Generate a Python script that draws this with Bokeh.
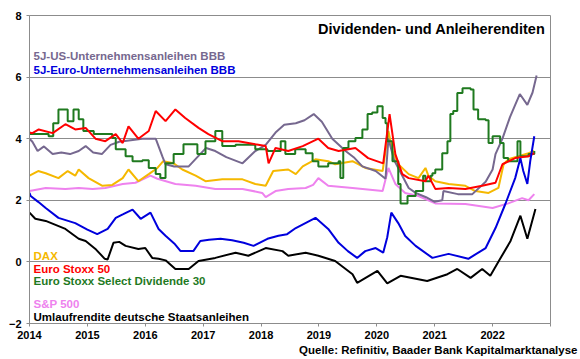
from bokeh.plotting import figure
from bokeh.models import Range1d, FixedTicker, Label, Title
from bokeh.embed import file_html
from bokeh.resources import INLINE

# ---------------- data (decimal years, percent) ----------------
us_t = [2014.00, 2014.05, 2014.14, 2014.25, 2014.40, 2014.55, 2014.70, 2014.85, 2014.97, 2015.10,
        2015.25, 2015.40, 2015.55, 2015.75, 2015.95, 2016.18, 2016.30, 2016.35, 2016.50, 2016.75,
        2016.90, 2017.05, 2017.21, 2017.40, 2017.68, 2017.90, 2018.08, 2018.25, 2018.40, 2018.60,
        2018.75, 2018.91, 2019.05, 2019.23, 2019.46, 2019.60, 2019.75, 2019.98, 2020.15, 2020.20,
        2020.30, 2020.37, 2020.55, 2020.67, 2020.85, 2021.00, 2021.13, 2021.15, 2021.40, 2021.65,
        2021.88, 2022.00, 2022.05, 2022.17, 2022.30, 2022.39, 2022.47, 2022.60, 2022.69, 2022.76]
us_v = [4.00, 3.90, 3.60, 3.75, 3.50, 3.55, 3.50, 3.60, 3.76, 3.55,
        3.50, 3.80, 3.90, 3.95, 4.00, 4.00, 3.40, 3.17, 3.10, 3.10,
        3.40, 3.70, 3.60, 3.40, 3.20, 3.60, 3.80, 4.20, 4.45, 4.50,
        4.60, 4.80, 4.55, 4.00, 3.60, 3.40, 3.10, 2.95, 2.70, 4.00,
        3.30, 3.05, 2.40, 2.24, 2.10, 1.95, 2.00, 2.30, 2.20, 2.20,
        2.60, 3.00, 3.50, 4.00, 4.70, 5.10, 5.45, 5.10, 5.50, 6.05]

eu_t = [2014.00, 2014.02, 2014.15, 2014.28, 2014.50, 2014.79, 2015.00, 2015.17, 2015.35, 2015.49,
        2015.62, 2015.78, 2015.92, 2016.09, 2016.23, 2016.35, 2016.50, 2016.61, 2016.83, 2016.95,
        2017.10, 2017.30, 2017.50, 2017.70, 2017.87, 2018.11, 2018.30, 2018.45, 2018.60, 2018.94,
        2019.16, 2019.34, 2019.50, 2019.66, 2019.80, 2019.98, 2020.11, 2020.18, 2020.25, 2020.37,
        2020.49, 2020.67, 2020.96, 2021.24, 2021.58, 2021.88, 2022.05, 2022.22, 2022.39, 2022.48,
        2022.53, 2022.60, 2022.65, 2022.72]
eu_v = [2.24, 2.14, 1.95, 1.75, 1.43, 1.26, 1.05, 0.90, 1.07, 1.43,
        1.55, 1.70, 1.40, 1.60, 1.07, 0.85, 0.60, 0.35, 0.35, 0.68,
        0.72, 0.75, 0.70, 0.62, 0.52, 0.75, 0.85, 0.90, 1.10, 1.43,
        1.07, 0.62, 0.35, 0.13, 0.35, 0.45, 0.30, 0.80, 1.60, 1.26,
        0.84, 0.52, 0.13, 0.26, 0.10, 0.45, 1.10, 1.88, 2.72, 3.37,
        2.95, 2.53, 3.27, 4.08]

bund_t = [2014.00, 2014.10, 2014.28, 2014.62, 2014.85, 2014.97, 2015.15, 2015.30, 2015.35, 2015.45,
          2015.55, 2015.66, 2015.88, 2016.00, 2016.12, 2016.23, 2016.35, 2016.52, 2016.75, 2016.92,
          2017.21, 2017.56, 2017.78, 2018.08, 2018.37, 2018.47, 2018.77, 2018.99, 2019.28, 2019.58,
          2019.66, 2020.01, 2020.18, 2020.41, 2020.87, 2021.22, 2021.39, 2021.62, 2021.82, 2021.96,
          2022.13, 2022.31, 2022.48, 2022.60, 2022.74]
bund_v = [1.60, 1.40, 1.33, 1.07, 0.75, 0.68, 0.40, 0.10, 0.08, 0.62,
          0.65, 0.52, 0.42, 0.45, 0.13, 0.10, 0.05, -0.23, -0.23, 0.03,
          0.13, 0.30, 0.20, 0.45, 0.35, 0.20, 0.30, 0.20, 0.03, -0.40,
          -0.68, -0.29, -0.70, -0.45, -0.62, -0.40, -0.23, -0.52, -0.23, -0.45,
          0.10, 0.68, 1.50, 0.75, 1.72]

es50_t = [2014.00, 2014.05, 2014.16, 2014.40, 2014.62, 2014.79, 2014.97, 2015.14, 2015.31, 2015.49,
          2015.61, 2015.71, 2015.88, 2016.06, 2016.18, 2016.35, 2016.52, 2016.69, 2016.92, 2017.09,
          2017.33, 2017.61, 2017.90, 2018.08, 2018.13, 2018.25, 2018.47, 2018.72, 2018.99, 2019.16,
          2019.34, 2019.63, 2019.85, 2020.11, 2020.22, 2020.32, 2020.44, 2020.55, 2020.84, 2020.89,
          2021.01, 2021.24, 2021.53, 2021.82, 2022.05, 2022.17, 2022.39, 2022.62, 2022.72]
es50_v = [4.20, 4.18, 4.30, 4.18, 4.47, 4.30, 4.35, 4.00, 3.92, 4.15,
          3.86, 4.40, 4.00, 4.25, 4.90, 4.57, 4.95, 4.67, 4.35, 4.15,
          3.92, 3.92, 3.82, 3.76, 3.20, 3.70, 3.60, 3.76, 4.00, 3.70,
          3.60, 3.70, 3.37, 3.20, 4.80, 3.50, 2.85, 2.72, 2.62, 2.80,
          2.37, 2.40, 2.37, 2.47, 2.57, 3.17, 3.37, 3.43, 3.53]

sd30_t = [2014.00, 2014.33, 2014.41, 2014.50, 2014.66, 2014.76, 2014.85, 2014.93, 2015.11, 2015.43,
          2015.49, 2015.66, 2015.78, 2015.95, 2016.06, 2016.18, 2016.26, 2016.35, 2016.49, 2016.66,
          2016.90, 2017.04, 2017.21, 2017.33, 2017.56, 2017.90, 2018.11, 2018.34, 2018.42, 2018.59,
          2018.77, 2018.89, 2018.99, 2019.16, 2019.34, 2019.37, 2019.42, 2019.51, 2019.63, 2019.75,
          2019.84, 2019.92, 2020.01, 2020.10, 2020.15, 2020.18, 2020.27, 2020.37, 2020.41, 2020.53,
          2020.67, 2020.80, 2020.84, 2020.93, 2020.96, 2021.01, 2021.13, 2021.22, 2021.27, 2021.32,
          2021.39, 2021.48, 2021.62, 2021.67, 2021.75, 2021.88, 2021.93, 2022.00, 2022.13, 2022.19,
          2022.27, 2022.43, 2022.48, 2022.62, 2022.72]
sd30_v = [4.15, 4.08, 4.50, 4.95, 4.57, 4.95, 4.63, 4.25, 4.15, 4.02,
          3.66, 3.43, 3.27, 3.30, 3.05, 2.85, 2.72, 3.20, 3.50, 3.82,
          3.50, 3.92, 4.25, 3.76, 3.80, 3.66, 3.60, 3.92, 3.50, 3.66,
          3.53, 3.27, 3.10, 3.20, 3.27, 2.72, 3.70, 3.92, 4.02, 4.30,
          4.80, 4.85, 5.05, 4.67, 4.50, 3.92, 3.27, 2.53, 1.90, 2.14,
          2.30, 2.80, 2.62, 2.80, 2.88, 3.00, 3.53, 3.92, 4.80, 4.90,
          5.48, 5.64, 5.60, 4.95, 4.63, 4.60, 3.86, 4.08, 3.86, 3.37,
          3.27, 3.92, 3.43, 3.50, 3.60]

dax_t = [2014.00, 2014.15, 2014.28, 2014.50, 2014.66, 2014.79, 2014.85, 2015.02, 2015.26, 2015.43,
         2015.61, 2015.71, 2015.88, 2016.06, 2016.21, 2016.31, 2016.49, 2016.64, 2016.87, 2017.04,
         2017.33, 2017.68, 2017.90, 2018.08, 2018.21, 2018.47, 2018.60, 2018.72, 2018.94, 2019.16,
         2019.28, 2019.58, 2019.80, 2020.10, 2020.20, 2020.27, 2020.37, 2020.55, 2020.72, 2020.84,
         2020.89, 2021.01, 2021.24, 2021.53, 2021.70, 2021.93, 2022.10, 2022.19, 2022.27, 2022.45,
         2022.62, 2022.72]
dax_v = [2.80, 2.95, 2.88, 2.72, 2.95, 2.80, 3.00, 2.72, 2.47, 2.50,
         2.72, 3.00, 2.62, 2.85, 3.05, 3.27, 3.20, 3.00, 2.80, 2.62,
         2.68, 2.68, 2.53, 2.47, 2.95, 3.00, 2.85, 3.10, 3.33, 3.27,
         3.17, 3.27, 3.05, 2.95, 4.25, 3.60, 3.17, 2.85, 2.72, 3.05,
         2.80, 2.62, 2.53, 2.47, 2.30, 2.24, 2.40, 3.17, 3.33, 3.43,
         3.53, 3.60]

sp_t = [2014.00, 2014.28, 2014.62, 2014.85, 2015.09, 2015.31, 2015.61, 2015.83, 2016.09, 2016.21,
        2016.52, 2016.87, 2017.21, 2017.68, 2018.02, 2018.08, 2018.25, 2018.47, 2018.77, 2018.90,
        2018.99, 2019.16, 2019.58, 2020.10, 2020.20, 2020.32, 2020.49, 2020.72, 2021.01, 2021.53,
        2022.00, 2022.27, 2022.51, 2022.62, 2022.72]
sp_v = [2.30, 2.40, 2.37, 2.40, 2.37, 2.40, 2.53, 2.57, 2.80, 2.70,
        2.53, 2.47, 2.37, 2.37, 2.24, 2.10, 2.30, 2.37, 2.40, 2.50,
        2.72, 2.47, 2.40, 2.30, 3.05, 2.53, 2.24, 2.14, 1.90, 1.88,
        1.75, 1.90, 2.07, 2.00, 2.20]

year_ticks = [2014, 2015, 2016, 2017, 2018, 2019, 2020, 2021, 2022, 2023]
value_ticks = [-2, 0, 2, 4, 6, 8]

title_text = "Dividenden- und Anleiherenditen"
source_text = "Quelle: Refinitiv, Baader Bank Kapitalmarktanalyse"

C_US = "#76688f"
C_EU = "#0000dd"
C_BUND = "#000000"
C_ES50 = "#ff0000"
C_SD30 = "#1f7a1f"
C_DAX = "#f5b800"
C_SP = "#ee82ee"
GRID = "#8c8c8c"
FONT = "Liberation Sans"

p = figure(width=580, height=359, output_backend="svg", toolbar_location=None,
           x_range=Range1d(2014, 2023), y_range=Range1d(-2, 8),
           min_border_left=29, min_border_right=30, min_border_top=15, min_border_bottom=36)
p.outline_line_color = GRID
p.background_fill_color = "white"
p.border_fill_color = "white"

p.xgrid.grid_line_color = None
p.ygrid.ticker = FixedTicker(ticks=value_ticks)
p.ygrid.grid_line_color = GRID
p.ygrid.grid_line_width = 1

p.yaxis.ticker = FixedTicker(ticks=value_ticks)
p.xaxis.ticker = FixedTicker(ticks=year_ticks)
p.xaxis.major_label_overrides = {2023: ""}
for ax in (p.xaxis, p.yaxis):
    ax.axis_line_color = GRID
    ax.major_tick_line_color = GRID
    ax.minor_tick_line_color = None
    ax.major_tick_in = 0
    ax.major_tick_out = 3
    ax.major_label_text_font = FONT
    ax.major_label_text_font_style = "bold"
    ax.major_label_text_font_size = "11px"
    ax.major_label_text_color = "black"
p.yaxis.major_label_standoff = 5
p.xaxis.major_label_standoff = 4

lw = 2
p.line(sp_t, sp_v, line_color=C_SP, line_width=lw)
p.line(dax_t, dax_v, line_color=C_DAX, line_width=lw)
p.line(us_t, us_v, line_color=C_US, line_width=lw)
p.step(sd30_t, sd30_v, line_color=C_SD30, line_width=lw, mode="after")
p.line(es50_t, es50_v, line_color=C_ES50, line_width=lw)
p.line(eu_t, eu_v, line_color=C_EU, line_width=lw)
p.line(bund_t, bund_v, line_color=C_BUND, line_width=lw)

def lab(text, x, y, color, size="11.5px", align="left"):
    p.add_layout(Label(x=x, y=y, text=text, text_color=color, text_font=FONT,
                       text_font_style="bold", text_font_size=size,
                       text_align=align, text_baseline="middle"))

lab(title_text, 2022.91, 7.55, "black", size="14.5px", align="right")
lab("5J-US-Unternehmensanleihen BBB", 2014.07, 6.68, C_US)
lab("5J-Euro-Unternehmensanleihen BBB", 2014.07, 6.22, C_EU)
lab("DAX", 2014.07, 0.19, C_DAX)
lab("Euro Stoxx 50", 2014.07, -0.23, C_ES50)
lab("Euro Stoxx Select Dividende 30", 2014.07, -0.62, C_SD30)
lab("S&P 500", 2014.07, -1.36, C_SP)
lab("Umlaufrendite deutsche Staatsanleihen", 2014.07, -1.78, "black")

src = Title(text=source_text, align="right", offset=-27, standoff=0,
            text_font=FONT, text_font_style="bold", text_font_size="11.5px",
            text_color="black")
p.add_layout(src, "below")

open("out.html", "w").write(file_html(p, INLINE))
